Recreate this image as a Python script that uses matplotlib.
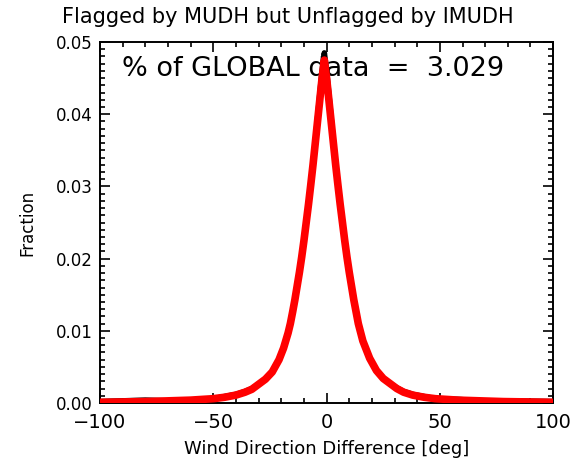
import matplotlib
matplotlib.use('Agg')
import matplotlib.pyplot as plt
from matplotlib.ticker import MultipleLocator

# wind direction difference [deg] and fraction of data
wdir = [-100, -80, -70, -60, -50, -45, -40, -36, -33, -30, -27, -24, -21,
        -19, -17, -16, -15, -14, -13, -12, -11, -10, -9, -8, -7, -6, -5,
        -4, -3, -2, -1, 0, 1, 2, 3, 4, 5, 6, 7, 8, 9, 10, 11, 12, 14, 16,
        19, 22, 25, 28, 31, 34, 38, 43, 48, 58, 68, 78, 100]
fit_frac = [0.0001, 0.0002, 0.0003, 0.0004, 0.0006, 0.0008, 0.0011, 0.0015,
            0.0019, 0.0026, 0.0033, 0.0043, 0.0060, 0.0076, 0.0097, 0.0110,
            0.0126, 0.0143, 0.0162, 0.0181, 0.0202, 0.0225, 0.0250, 0.0275,
            0.0302, 0.0330, 0.0360, 0.0390, 0.0420, 0.0450, 0.0475, 0.0450,
            0.0420, 0.0390, 0.0360, 0.0330, 0.0302, 0.0275, 0.0250, 0.0225,
            0.0202, 0.0181, 0.0162, 0.0143, 0.0110, 0.0086, 0.0062, 0.0045,
            0.0034, 0.0027, 0.0020, 0.0015, 0.0011, 0.0008, 0.0006, 0.0004,
            0.0003, 0.0002, 0.0001]
# histogram underneath (black), slightly above the fit at the peak
hist_frac = [0.0002, 0.0004, 0.0003, 0.0004, 0.0006, 0.0009, 0.0012, 0.0016,
             0.0020, 0.0026, 0.0033, 0.0043, 0.0060, 0.0076, 0.0097, 0.0110,
             0.0126, 0.0143, 0.0162, 0.0181, 0.0202, 0.0225, 0.0250, 0.0275,
             0.0302, 0.0330, 0.0362, 0.0395, 0.0428, 0.0460, 0.0485, 0.0460,
             0.0428, 0.0395, 0.0362, 0.0330, 0.0302, 0.0275, 0.0250, 0.0225,
             0.0202, 0.0181, 0.0162, 0.0143, 0.0110, 0.0086, 0.0062, 0.0045,
             0.0034, 0.0027, 0.0021, 0.0016, 0.0012, 0.0009, 0.0006, 0.0005,
             0.0003, 0.0003, 0.0002]

title = 'Flagged by MUDH but Unflagged by IMUDH'
pct_global = 3.029

fig = plt.figure(figsize=(5.75, 4.67), dpi=100)
ax = fig.add_axes([0.174, 0.137, 0.788, 0.773])

ax.plot(wdir, hist_frac, color='black', lw=4, zorder=2)
ax.plot(wdir, fit_frac, color='#ff0000', lw=5.5, zorder=3)

ax.text(-90.3, 0.0463, '%% of GLOBAL data  =  %.3f' % pct_global, fontsize=19.5,
        va='center', ha='left', zorder=1)

ax.set_xlim(-100, 100)
ax.set_ylim(0, 0.05)
ax.xaxis.set_major_locator(MultipleLocator(50))
ax.xaxis.set_minor_locator(MultipleLocator(10))
ax.yaxis.set_major_locator(MultipleLocator(0.01))
ax.yaxis.set_minor_locator(MultipleLocator(0.001))
ax.tick_params(which='both', direction='in', top=True, right=True, width=1.2)
ax.tick_params(which='major', length=7)
ax.tick_params(which='minor', length=3.5)
ax.tick_params(axis='x', labelsize=14, pad=7)
ax.tick_params(axis='y', labelsize=12, pad=5)
ax.yaxis.set_major_formatter(plt.FormatStrFormatter('%.2f'))
for s in ax.spines.values():
    s.set_linewidth(1.4)

fig.suptitle(title, fontsize=15, x=0.5, y=0.985, va='top')
ax.set_xlabel('Wind Direction Difference [deg]', fontsize=13, labelpad=6)
ax.set_ylabel('Fraction', fontsize=12, labelpad=14)

fig.savefig('out.png', dpi=100)
